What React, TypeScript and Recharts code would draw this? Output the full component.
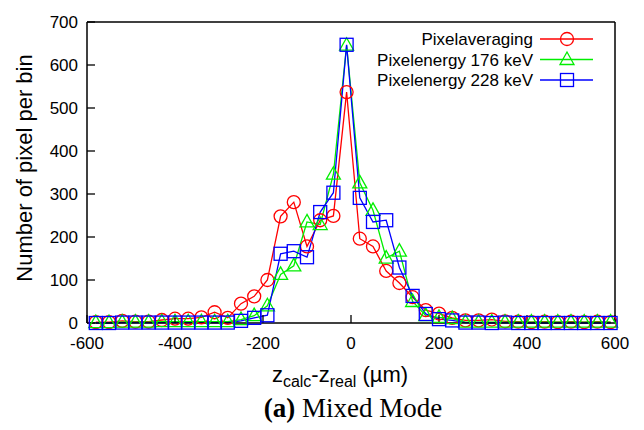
import { LineChart, Line, XAxis, YAxis, Legend } from "recharts";

// bin centres (µm) and counts per bin
const xs = [
  -580, -550, -520, -490, -460, -430, -400, -370, -340, -310, -280, -250, -220, -190, -160, -130, -100, -70, -40, -10,
  20, 50, 80, 110, 140, 170, 200, 230, 260, 290, 320, 350, 380, 410, 440, 470, 500, 530, 560, 590,
];
const pixelAveraging = [
  2, 2, 5, 3, 3, 7, 10, 10, 13, 25, 12, 45, 62, 100, 248, 281, 178, 239, 249, 537,
  196, 178, 121, 93, 60, 30, 22, 12, 6, 6, 8, 4, 3, 2, 3, 2, 3, 2, 3, 2,
];
const energy176 = [
  1, 1, 2, 2, 2, 3, 3, 3, 3, 3, 3, 8, 17, 40, 113, 133, 235, 229, 346, 646,
  326, 262, 151, 167, 50, 17, 13, 10, 2, 2, 2, 2, 2, 2, 2, 2, 2, 2, 2, 2,
];
const energy228 = [
  0, 0, 1, 1, 1, 1, 1, 1, 1, 1, 1, 5, 12, 18, 161, 167, 153, 258, 303, 647,
  291, 235, 239, 129, 63, 21, 9, 6, 1, 1, 0, 1, 0, 0, 0, 0, 0, 0, 0, 0,
];
const xTicks = [-600, -400, -200, 0, 200, 400, 600];
const yTicks = [0, 100, 200, 300, 400, 500, 600, 700];
const seriesNames = ["Pixelaveraging", "Pixelenergy 176 keV", "Pixelenergy 228 keV"];

const RED = "#ff0000";
const GREEN = "#00ee00";
const BLUE = "#0000ff";
const COLORS = [RED, GREEN, BLUE];

const data = xs.map((x, i) => ({
  x,
  avg: pixelAveraging[i],
  e176: energy176[i],
  e228: energy228[i],
}));

const FONT = "'Liberation Sans', Arial, sans-serif";

function Marker({ kind, cx, cy, color }: { kind: number; cx: number; cy: number; color: string }) {
  if (kind === 0) return <circle cx={cx} cy={cy} r={6.5} fill="none" stroke={color} strokeWidth={1.3} />;
  if (kind === 1)
    return (
      <polygon
        points={`${cx},${cy - 7.5} ${cx - 7},${cy + 5} ${cx + 7},${cy + 5}`}
        fill="none"
        stroke={color}
        strokeWidth={1.3}
      />
    );
  return <rect x={cx - 6.5} y={cy - 6.5} width={13} height={13} fill="none" stroke={color} strokeWidth={1.3} />;
}

const makeDot = (kind: number) => (props: any) => {
  const { cx, cy, index } = props;
  if (cx == null || cy == null) return <g key={index} />;
  return (
    <g key={index}>
      <Marker kind={kind} cx={cx} cy={cy} color={COLORS[kind]} />
    </g>
  );
};

function LegendBox() {
  return (
    <svg width={300} height={64} style={{ display: "block" }}>
      {seriesNames.map((name, i) => {
        const y = 11 + i * 20.5;
        return (
          <g key={name}>
            <text x={233} y={y + 6} textAnchor="end" fontSize={17} fontFamily={FONT} fill="#000">
              {name}
            </text>
            <line x1={240} x2={293} y1={y} y2={y} stroke={COLORS[i]} strokeWidth={1.3} />
            <Marker kind={i} cx={267} cy={y} color={COLORS[i]} />
          </g>
        );
      })}
    </svg>
  );
}

function YLabel() {
  return (
    <text
      x={32}
      y={168}
      transform="rotate(-90 32 168)"
      textAnchor="middle"
      fontSize={22}
      fontFamily={FONT}
      fill="#000"
    >
      Number of pixel per bin
    </text>
  );
}

function XLabel() {
  return (
    <g fontFamily={FONT} fill="#000">
      <text x={340} y={382} textAnchor="middle" fontSize={22}>
        z
        <tspan fontSize={16} dy={5}>calc</tspan>
        <tspan dy={-5}>-z</tspan>
        <tspan fontSize={16} dy={5}>real</tspan>
        <tspan dy={-5}> (µm)</tspan>
      </text>
      <text
        x={353}
        y={417}
        textAnchor="middle"
        fontSize={27}
        fontFamily="'Liberation Serif', 'Times New Roman', serif"
      >
        <tspan fontWeight="bold">(a)</tspan> Mixed Mode
      </text>
    </g>
  );
}

const axisLine = { stroke: "#000", strokeWidth: 1.5 };
const tickLine = { stroke: "#000", strokeWidth: 1.3 };
const tickStyle = { fontSize: 17, fontFamily: FONT, fill: "#000" };

export default function App() {
  return (
    <div style={{ position: "absolute", left: 0, top: 0, background: "#fff" }}>
      <LineChart width={644} height={430} data={data} margin={{ top: 0, right: 0, bottom: 67, left: 0 }}>
        <XAxis
          xAxisId="bottom"
          dataKey="x"
          type="number"
          domain={[-600, 600]}
          ticks={xTicks}
          interval={0}
          height={40}
          tickSize={-8}
          tickMargin={22}
          axisLine={axisLine}
          tickLine={tickLine}
          tick={tickStyle}
          label={<XLabel />}
        />
        <XAxis
          xAxisId="top"
          orientation="top"
          dataKey="x"
          type="number"
          domain={[-600, 600]}
          ticks={xTicks}
          interval={0}
          height={22}
          tickSize={-8}
          axisLine={axisLine}
          tickLine={tickLine}
          tick={false}
        />
        <YAxis
          yAxisId="left"
          domain={[0, 700]}
          ticks={yTicks}
          interval={0}
          width={87}
          tickSize={-8}
          tickMargin={17}
          axisLine={axisLine}
          tickLine={tickLine}
          tick={tickStyle}
          label={<YLabel />}
        />
        <YAxis
          yAxisId="right"
          orientation="right"
          domain={[0, 700]}
          ticks={yTicks}
          interval={0}
          width={29}
          tickSize={-8}
          axisLine={axisLine}
          tickLine={tickLine}
          tick={false}
        />
        <Legend
          layout="vertical"
          align="center"
          verticalAlign="middle"
          content={() => <LegendBox />}
          wrapperStyle={{ left: 300, top: 28, width: 300, height: 64 }}
        />
        <Line
          xAxisId="bottom"
          yAxisId="left"
          dataKey="avg"
          name={seriesNames[0]}
          stroke={RED}
          strokeWidth={1.3}
          dot={makeDot(0)}
          activeDot={false}
          isAnimationActive={false}
        />
        <Line
          xAxisId="bottom"
          yAxisId="left"
          dataKey="e176"
          name={seriesNames[1]}
          stroke={GREEN}
          strokeWidth={1.3}
          dot={makeDot(1)}
          activeDot={false}
          isAnimationActive={false}
        />
        <Line
          xAxisId="bottom"
          yAxisId="left"
          dataKey="e228"
          name={seriesNames[2]}
          stroke={BLUE}
          strokeWidth={1.3}
          dot={makeDot(2)}
          activeDot={false}
          isAnimationActive={false}
        />
      </LineChart>
    </div>
  );
}
